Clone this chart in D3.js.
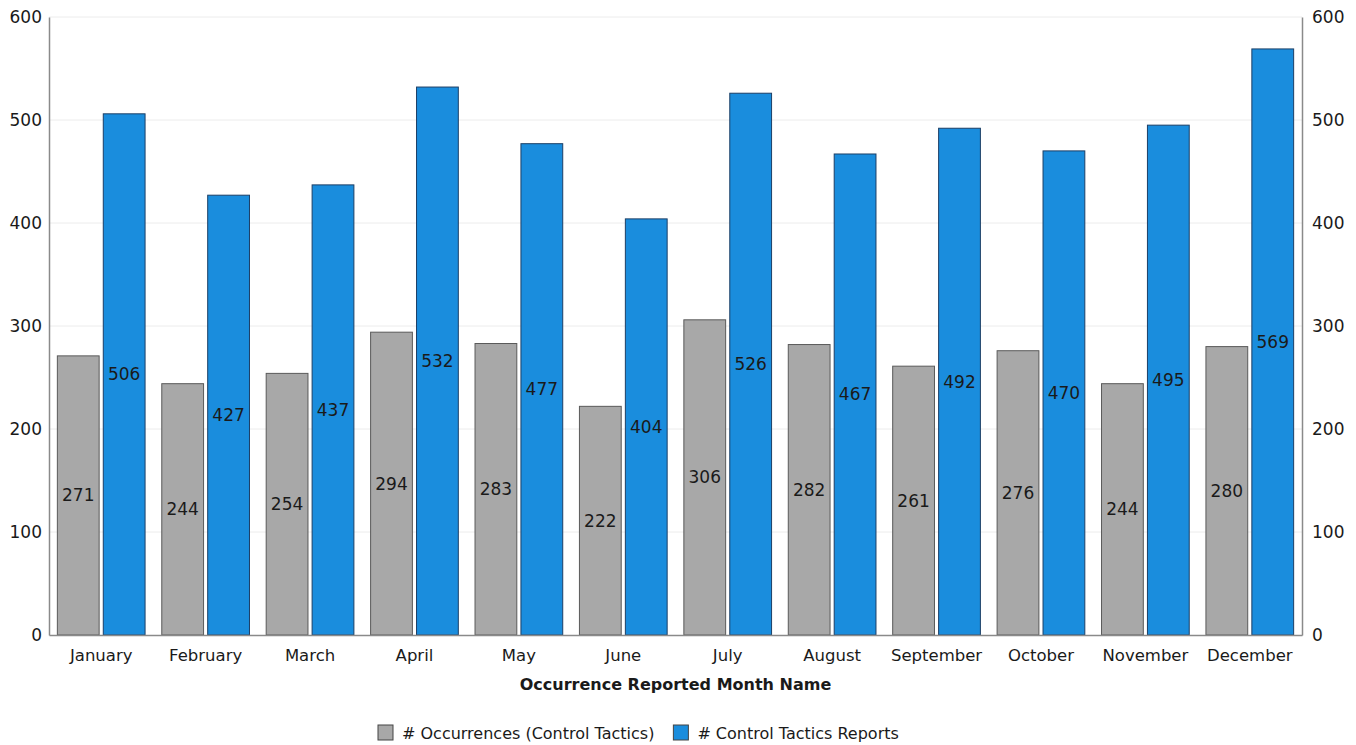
<!DOCTYPE html>
<html>
<head>
<meta charset="utf-8">
<script src="https://cdn.jsdelivr.net/npm/d3@7"></script>
<style>
  html, body { margin: 0; padding: 0; background: #fff; }
  svg text { font-family: "DejaVu Sans", Verdana, sans-serif; fill: #1a1a1a; }
</style>
</head>
<body>
<svg id="chart" width="1356" height="745"></svg>
<script>
const months = ["January","February","March","April","May","June","July","August","September","October","November","December"];
const occurrences = [271,244,254,294,283,222,306,282,261,276,244,280];
const reports = [506,427,437,532,477,404,526,467,492,470,495,569];
const yTicks = [0,100,200,300,400,500,600];
const seriesNames = ["# Occurrences (Control Tactics)", "# Control Tactics Reports"];
const seriesColors = ["#a8a8a8", "#1a8ddd"];

const svg = d3.select("#chart");
const margin = {left: 49, right: 54, top: 17, bottom: 110};
const W = 1356, H = 745;
const x0 = margin.left, x1 = W - margin.right;
const yBottom = H - margin.bottom, yTop = margin.top;

const x = d3.scaleBand().domain(months).range([x0, x1]).paddingInner(0.16).paddingOuter(0.08);
const xs = d3.scaleBand().domain([0,1]).range([0, x.bandwidth()]).paddingInner(0.09);
const y = d3.scaleLinear().domain([0, 600]).range([yBottom, yTop]);

// faint gridlines
svg.append("g").selectAll("line").data(yTicks.filter(d => d > 0)).join("line")
  .attr("x1", x0).attr("x2", x1)
  .attr("y1", d => y(d)).attr("y2", d => y(d))
  .attr("stroke", "#ececec").attr("stroke-width", 1);

const data = months.map((m, i) => ({m, vals: [occurrences[i], reports[i]]}));

const groups = svg.append("g").selectAll("g").data(data).join("g")
  .attr("transform", d => `translate(${x(d.m)},0)`);

groups.selectAll("rect").data(d => d.vals.map((v, k) => ({v, k}))).join("rect")
  .attr("x", d => xs(d.k))
  .attr("width", xs.bandwidth())
  .attr("y", d => y(d.v))
  .attr("height", d => y(0) - y(d.v))
  .attr("fill", d => seriesColors[d.k])
  .attr("stroke", d => d.k === 0 ? "#5a5a5a" : "#1c3f66")
  .attr("stroke-width", 1);

groups.selectAll("text.val").data(d => d.vals.map((v, k) => ({v, k}))).join("text")
  .attr("class", "val")
  .attr("x", d => xs(d.k) + xs.bandwidth() / 2)
  .attr("y", d => (y(d.v) + y(0)) / 2)
  .attr("text-anchor", "middle")
  .attr("dominant-baseline", "central")
  .attr("font-size", 17)
  .text(d => d.v);

// axes
const leftAxis = d3.axisLeft(y).tickValues(yTicks).tickSize(0).tickPadding(7);
const rightAxis = d3.axisRight(y).tickValues(yTicks).tickSize(0).tickPadding(10);
const bottomAxis = d3.axisBottom(x).tickSize(0).tickPadding(14);

function styleAxis(g, size) {
  g.select(".domain").attr("stroke", "#8a8a8a").attr("stroke-width", 1.5);
  g.selectAll("text").attr("font-size", size).attr("fill", "#1a1a1a")
    .style("font-family", '"DejaVu Sans", Verdana, sans-serif');
}
svg.append("g").attr("transform", `translate(${x0},0)`).call(leftAxis).call(styleAxis, 17);
svg.append("g").attr("transform", `translate(${x1},0)`).call(rightAxis).call(styleAxis, 17);
svg.append("g").attr("transform", `translate(0,${yBottom})`).call(bottomAxis).call(styleAxis, 16.5)
  .select(".domain").attr("stroke", "#8a8a8a");

svg.append("text")
  .attr("x", (x0 + x1) / 2).attr("y", 690)
  .attr("text-anchor", "middle").attr("font-size", 16).attr("font-weight", "bold")
  .text("Occurrence Reported Month Name");

// legend
const legend = svg.append("g").attr("transform", "translate(378,733)");
let lx = 0;
seriesNames.forEach((name, i) => {
  const g = legend.append("g").attr("transform", `translate(${lx},0)`);
  g.append("rect").attr("x", 0).attr("y", -8).attr("width", 15).attr("height", 15)
    .attr("fill", seriesColors[i]).attr("stroke", "#444");
  const t = g.append("text").attr("x", 24).attr("y", 0).attr("dominant-baseline", "central")
    .attr("font-size", 16).text(name);
  lx += 24 + t.node().getComputedTextLength() + 19;
});
</script>
</body>
</html>
